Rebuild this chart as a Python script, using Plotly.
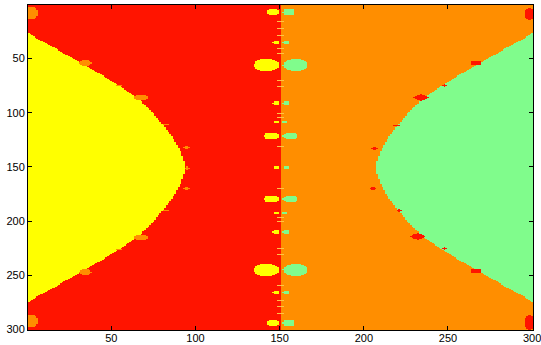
import numpy as np
import plotly.graph_objects as go

# ---- grid size and tick labels ----
n_rows = 300
n_cols = 300
x_ticks = [50, 100, 150, 200, 250, 300]
y_ticks = [50, 100, 150, 200, 250, 300]

# basin colours: 0 red, 1 orange, 2 yellow, 3 green, 4 pale marks
basin_colors = ["rgb(255,20,0)", "rgb(255,142,0)", "rgb(255,255,0)",
                "rgb(128,252,140)", "rgb(255,195,70)"]

# column where red (left) turns into orange (right)
split_col = 150.5

# yellow basin boundary (row, last yellow column)
yellow_rows = [26.5, 40, 54, 64, 74, 87, 100, 107, 116, 128, 140, 146, 150.5,
               155, 161, 173, 185, 194, 201, 214, 227, 237, 247, 261, 274.5]
yellow_cols = [0.5, 16, 32, 43, 53, 66.5, 74.5, 78, 83.5, 88.5, 92.3, 93.3, 93.5,
               93.3, 92.3, 88.5, 83.5, 78, 74.5, 66.5, 53, 43, 32, 16, 0.5]

# green basin boundary (row, first green column)
green_rows = [26.5, 40, 54, 64, 74, 87, 100, 107, 116, 128, 140, 146, 150.5,
              155, 161, 173, 185, 194, 201, 214, 227, 237, 247, 261, 274.5]
green_cols = [300.5, 285, 269, 258, 248, 234.5, 226.5, 223, 217.5, 212.5, 208.7, 207.7, 207.5,
              207.7, 208.7, 212.5, 217.5, 223, 226.5, 234.5, 248, 258, 269, 285, 300.5]

# bulbs along the central line (yellow on left, green on right)
bulb_rows = [7, 35, 56, 91, 108.5, 121.5, 150.5, 179.5, 192.5, 210, 245, 266, 294]
bulb_halfh = [3, 1.5, 5.5, 1.5, 1.5, 3.5, 1.5, 3.5, 1.5, 1.5, 5.5, 1.5, 3]
bulb_len = [7, 4, 15, 4, 3, 9, 3.5, 9, 3, 4, 15, 4, 7]
yellow_bulb_edge = 149.6
green_bulb_edge = 151.9

# small pale dashes on the central line
dash_rows = [16, 22, 29, 41, 45, 70, 76, 101, 104, 131, 170, 197, 200, 225, 231, 259, 273, 279, 285]
dash_cols = [149, 150, 151, 152]

# orange spots on the yellow/red border and left corners
orange_row = [8, 54, 75, 86, 111, 132, 151, 170, 190, 215, 226, 247, 292]
orange_col = [2.5, 34.5, 54.5, 67.5, 82.5, 94.5, 95, 94.5, 82.5, 67.5, 54.5, 34.5, 2.5]
orange_ry = [5.5, 2.5, 1, 3, 1, 1.5, 1, 1.5, 1, 3, 1, 2.5, 6]
orange_rx = [4, 3.5, 1.5, 4, 1.5, 1.5, 1, 1.5, 1.5, 4, 1.5, 3.5, 4]

# red spots on the green/orange border and right corners
red_row = [9, 54, 75, 86, 112, 133, 170, 190, 214, 225, 246, 293.5]
red_col = [298.5, 266.5, 248, 234, 219.5, 206.5, 205.5, 221, 232, 248, 266.5, 298.5]
red_ry = [5.5, 2, 1, 3, 1, 1.5, 1.5, 1, 3, 1, 2, 7]
red_rx = [3, 3, 1.5, 4, 1.5, 1.5, 1.5, 1.5, 4, 1.5, 3, 3]

# ---- build the image ----
rows = np.arange(1, n_rows + 1)
cols = np.arange(1, n_cols + 1)
R, C = np.meshgrid(rows, cols, indexing="ij")

z = np.where(C <= split_col, 0, 1)

yb = np.interp(rows, yellow_rows, yellow_cols, left=0, right=0)
z[C <= yb[:, None]] = 2
gb = np.interp(rows, green_rows, green_cols, left=400, right=400)
z[C >= gb[:, None]] = 3


def ellipse(rc, cc, ry, rx):
    return ((R - rc) / ry) ** 2 + ((C - cc) / rx) ** 2 <= 1.0


for rc, cc, ry, rx in zip(orange_row, orange_col, orange_ry, orange_rx):
    z[ellipse(rc, cc, ry, rx)] = 1
for rc, cc, ry, rx in zip(red_row, red_col, red_ry, red_rx):
    z[ellipse(rc, cc, ry, rx)] = 0

for dr in dash_rows:
    for dc in dash_cols:
        z[int(round(dr)) - 1, dc - 1] = 4

for rc, hh, ln in zip(bulb_rows, bulb_halfh, bulb_len):
    z[ellipse(rc, yellow_bulb_edge - ln / 2, hh, ln / 2)] = 2
    z[ellipse(rc, green_bulb_edge + ln / 2, hh, ln / 2)] = 3

n_col = len(basin_colors)
colorscale = [[i / (n_col - 1), c] for i, c in enumerate(basin_colors)]

fig = go.Figure(go.Heatmap(
    z=z, x=cols, y=rows, zmin=0, zmax=n_col - 1,
    colorscale=colorscale, showscale=False, hoverinfo="skip",
))

axis_common = dict(
    showgrid=False, zeroline=False, showline=True, linecolor="black", linewidth=1,
    mirror="ticks", ticks="inside", ticklen=4, tickcolor="black",
    automargin=False, ticklabeloverflow="allow",
    tickfont=dict(family="Liberation Sans, Arial, sans-serif", size=11, color="black"),
)
fig.update_xaxes(range=[0.5, 300.5], tickvals=x_ticks, ticklabelstandoff=-2, **axis_common)
fig.update_yaxes(range=[300.5, 0.5], tickvals=y_ticks, **axis_common)

fig.update_layout(
    width=541, height=345,
    margin=dict(l=28, r=8, t=5, b=15),
    paper_bgcolor="white", plot_bgcolor="white",
)

fig.write_html(
    "out.html",
    config={"displayModeBar": False},
    post_script="document.body.style.margin='0';document.body.style.overflow='hidden';",
)
